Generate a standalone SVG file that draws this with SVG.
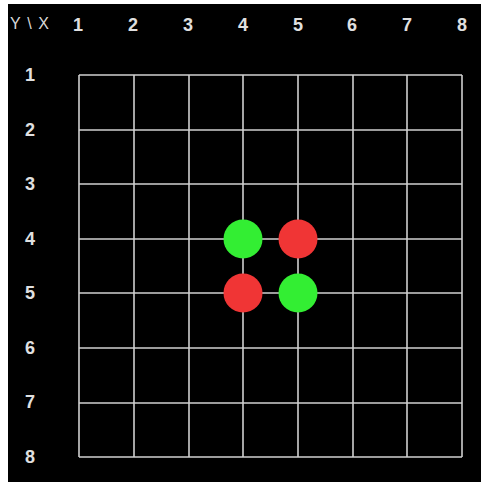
<svg xmlns="http://www.w3.org/2000/svg" width="481" height="482" viewBox="0 0 481 482">
<style>
.lbl{font-family:"Liberation Sans",Arial,sans-serif;font-size:18px;font-weight:bold;fill:#e0e0e0;text-anchor:middle}
.hdr{font-family:"Liberation Sans",Arial,sans-serif;font-size:16px;fill:#d8d8d8}
.grid line{stroke:#d0d0d0;stroke-width:1.6}
.g{fill:#33ee33}
.r{fill:#f03535}
</style>
<rect x="0" y="0" width="481" height="482" fill="#ffffff"/>
<rect x="8" y="4" width="473" height="478" fill="#000000"/>
<text class="hdr" x="10" y="29" textLength="39" lengthAdjust="spacing">Y\X</text>
<g id="col-labels">
<text class="lbl" x="78" y="31">1</text>
<text class="lbl" x="133" y="31">2</text>
<text class="lbl" x="188" y="31">3</text>
<text class="lbl" x="243" y="31">4</text>
<text class="lbl" x="298" y="31">5</text>
<text class="lbl" x="352" y="31">6</text>
<text class="lbl" x="407" y="31">7</text>
<text class="lbl" x="462" y="31">8</text>
</g>
<g id="row-labels">
<text class="lbl" x="30" y="81">1</text>
<text class="lbl" x="30" y="136">2</text>
<text class="lbl" x="30" y="190">3</text>
<text class="lbl" x="30" y="245">4</text>
<text class="lbl" x="30" y="299">5</text>
<text class="lbl" x="30" y="354">6</text>
<text class="lbl" x="30" y="408">7</text>
<text class="lbl" x="30" y="463">8</text>
</g>
<g id="grid" class="grid">
<line x1="79" y1="75" x2="79" y2="457"/>
<line x1="134" y1="75" x2="134" y2="457"/>
<line x1="189" y1="75" x2="189" y2="457"/>
<line x1="243" y1="75" x2="243" y2="457"/>
<line x1="298" y1="75" x2="298" y2="457"/>
<line x1="353" y1="75" x2="353" y2="457"/>
<line x1="407" y1="75" x2="407" y2="457"/>
<line x1="462" y1="75" x2="462" y2="457"/>
<line x1="79" y1="75" x2="462" y2="75"/>
<line x1="79" y1="130" x2="462" y2="130"/>
<line x1="79" y1="184" x2="462" y2="184"/>
<line x1="79" y1="239" x2="462" y2="239"/>
<line x1="79" y1="293" x2="462" y2="293"/>
<line x1="79" y1="348" x2="462" y2="348"/>
<line x1="79" y1="403" x2="462" y2="403"/>
<line x1="79" y1="457" x2="462" y2="457"/>
</g>
<g id="stone-4-4"><circle class="g" cx="243" cy="239" r="19.5"/></g>
<g id="stone-5-4"><circle class="r" cx="298" cy="239" r="19.5"/></g>
<g id="stone-4-5"><circle class="r" cx="243" cy="293" r="19.5"/></g>
<g id="stone-5-5"><circle class="g" cx="298" cy="293" r="19.5"/></g>
</svg>
